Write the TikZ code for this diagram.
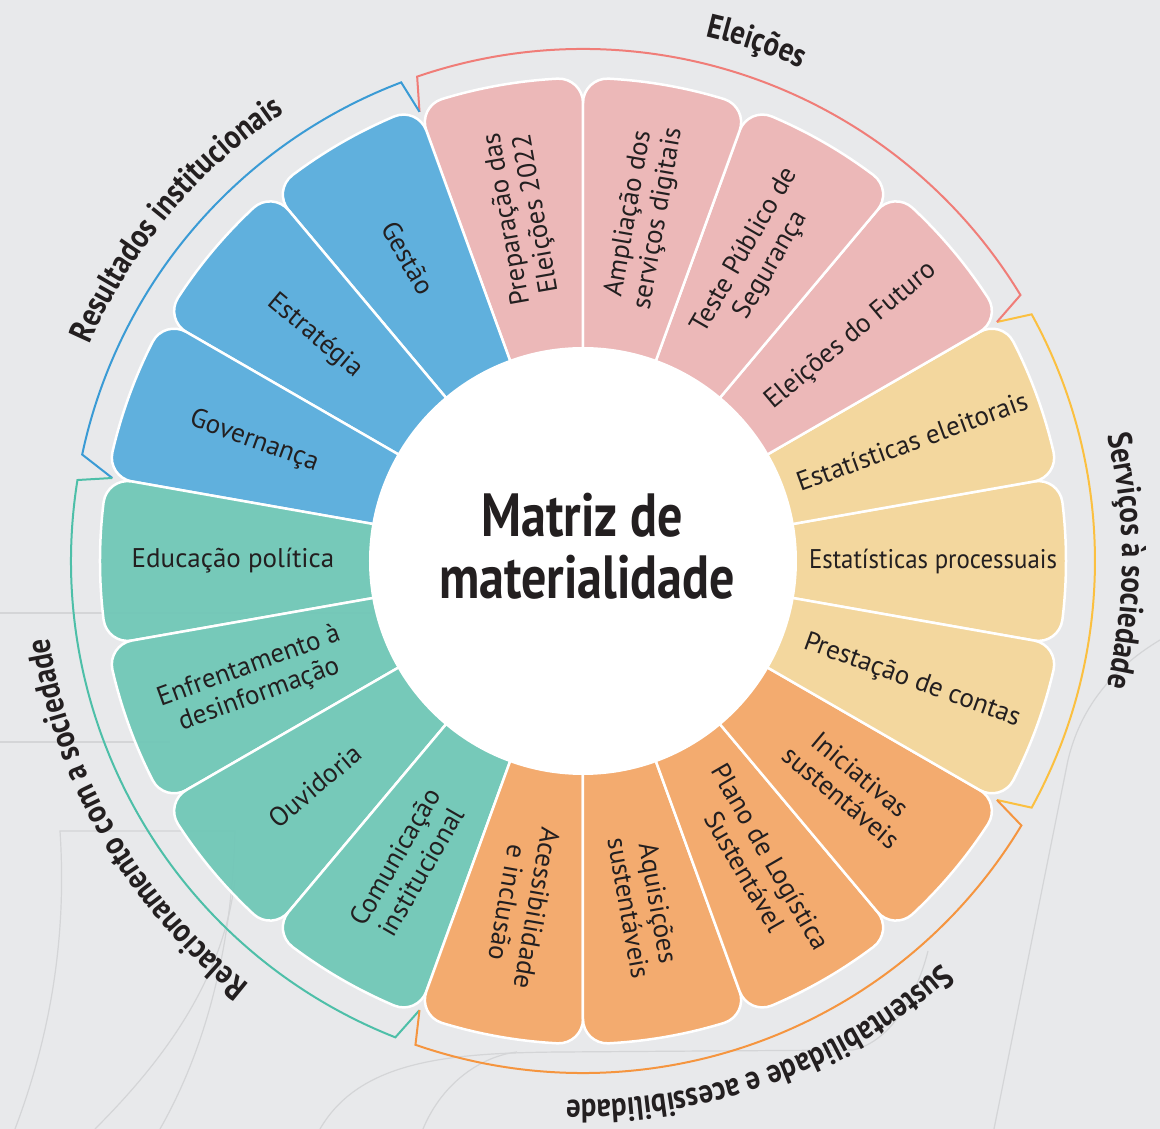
\documentclass[tikz,border=0pt]{standalone}
\usepackage{fontspec}
\setmainfont{PT Sans}
\newfontfamily\titlefont[FakeStretch=0.82]{PT Sans}
\newfontfamily\groupfont[FakeStretch=0.86]{PT Sans}
\newfontfamily\narrowfont[FakeStretch=0.92]{PT Sans}
\usetikzlibrary{decorations.text}

\definecolor{bg}{HTML}{E8E9EB}
\definecolor{ink}{HTML}{231F20}
\definecolor{faint}{HTML}{D4D5D7}
\definecolor{pinkfill}{HTML}{EDB5B5}
\definecolor{bluefill}{HTML}{56ACDD}
\definecolor{greenfill}{HTML}{6EC7B6}
\definecolor{yellowfill}{HTML}{F4D699}
\definecolor{orangefill}{HTML}{F4A766}
\definecolor{pinkline}{HTML}{F07D78}
\definecolor{blueline}{HTML}{3A9BD5}
\definecolor{greenline}{HTML}{4DBFA8}
\definecolor{yellowline}{HTML}{FBC040}
\definecolor{orangeline}{HTML}{F5953F}

\newcommand{\grouplabelfont}{\groupfont\bfseries\fontsize{33.5}{33.5}\selectfont}

\begin{document}
\begin{tikzpicture}[
  x=1pt, y=1pt,
  segment/.style={fill=#1, draw=white, line width=2.5pt, fill opacity=0.93},
  seglabel/.style={text=ink, align=center, inner sep=0pt, font=\fontsize{27}{30}\selectfont},
  hub/.style={circle, fill=white, inner sep=0pt, minimum size=428pt},
  titletext/.style={text=ink, inner sep=0pt, anchor=base, font=\titlefont\bfseries\fontsize{61}{62}\selectfont},
  bracket/.style={draw=#1, line width=2pt},
  grouplabel/.style={decorate, decoration={text along path, text align=center, text color=ink, text={|\grouplabelfont|#1}}},
  bgline/.style={draw=faint, line width=1.2pt}
]

% Background
\fill[bg] (-583,-568) rectangle (577,561);
\useasboundingbox (-583,-568) rectangle (577,561);

% Faint background lines
\draw[bgline] (-583,-52) -- (-180,-52);
\draw[bgline] (-583,-181) -- (-413,-181);
\draw[bgline] (-568,-568) .. controls (-538,-489) and (-515,-389) .. (-523,-270) -- (-348,-270) .. controls (-351,-389) and (-378,-489) .. (-423,-568);
\draw[bgline] (-348,-319) .. controls (-360,-420) and (-420,-500) .. (-488,-568);
\draw[bgline] (-263,-568) .. controls (-223,-499) and (-133,-492) .. (-23,-491) -- (270,-489) .. controls (310,-480) and (335,-430) .. (345,-390);
\draw[bgline] (-160,-568) .. controls (-140,-520) and (-100,-495) .. (-66,-491);
\draw[bgline] (577,-79) .. controls (527,-109) and (497,-149) .. (485,-199) -- (411,-568);

% Segments
\foreach \ang/\col/\name/\txt in {
    0/yellowfill/procstat/{\narrowfont Estatísticas processuais},
    20/yellowfill/elestat/{Estatísticas eleitorais},
    40/pinkfill/future/{Eleições do Futuro},
    60/pinkfill/pubtest/{Teste Público de\\Segurança},
    80/pinkfill/digital/{Ampliação dos\\serviços digitais},
    100/pinkfill/prep/{Preparação das\\Eleições 2022},
    120/bluefill/mgmt/{Gestão},
    140/bluefill/strategy/{Estratégia},
    160/bluefill/govern/{Governança},
    180/greenfill/educ/{Educação política},
    200/greenfill/disinfo/{Enfrentamento à\\desinformação},
    220/greenfill/ombud/{Ouvidoria},
    240/greenfill/comms/{Comunicação\\institucional},
    260/orangefill/access/{Acessibilidade\\e inclusão},
    280/orangefill/procure/{Aquisições\\sustentáveis},
    300/orangefill/logistics/{Plano de Logística\\Sustentável},
    320/orangefill/initiat/{Iniciativas\\sustentáveis},
    340/yellowfill/accounts/{Prestação de contas}}
{
  \pgfmathsetmacro\rot{ifthenelse(and(\ang>110,\ang<250),\ang-180,\ang)}
  \filldraw[segment=\col] (0,0) -- (\ang-10:458)
    .. controls (\ang-10:472) and (\ang-8.65:483) .. (\ang-7:483)
    arc[start angle=\ang-7, end angle=\ang+7, radius=483]
    .. controls (\ang+8.65:483) and (\ang+10:472) .. (\ang+10:458) -- cycle;
  \node[seglabel, rotate=\rot] (\name) at (\ang:350) {\txt};
}

% Centre
\node[hub] (centre) at (0,0) {};
\node[titletext] (title1) at (-1,24) {Matriz de};
\node[titletext] (title2) at (4,-38) {materialidade};

% Group brackets
\draw[bracket=yellowline] (-30:478) -- (-28.8:512) arc[start angle=-28.8, end angle=28.8, radius=512] -- (30:478);
\draw[bracket=pinkline] (30:478) -- (31.3:512) arc[start angle=31.3, end angle=108.9, radius=512] -- (110:478);
\draw[bracket=blueline] (110:478) -- (110.8:512) arc[start angle=110.8, end angle=168, radius=512] -- (170:478);
\draw[bracket=greenline] (170:478) -- (170.9:512) arc[start angle=170.9, end angle=248.5, radius=512] -- (250:478);
\draw[bracket=orangeline] (250:478) -- (250.9:512) arc[start angle=250.9, end angle=328.9, radius=512] -- (330:478);

% Group labels
\path[grouplabel={Serviços à sociedade}] (30:539) arc[start angle=30, end angle=-30, radius=539];
\path[grouplabel={Eleições}] (111.5:539) arc[start angle=111.5, end angle=31.5, radius=539];
\path[grouplabel={Resultados institucionais}] (170:539) arc[start angle=170, end angle=110, radius=539];
\path[grouplabel={Relacionamento com a sociedade}] (250:539) arc[start angle=250, end angle=170, radius=539];
\path[grouplabel={Sustentabilidade e acessibilidade}] (330:539) arc[start angle=330, end angle=250, radius=539];

\end{tikzpicture}
\end{document}
